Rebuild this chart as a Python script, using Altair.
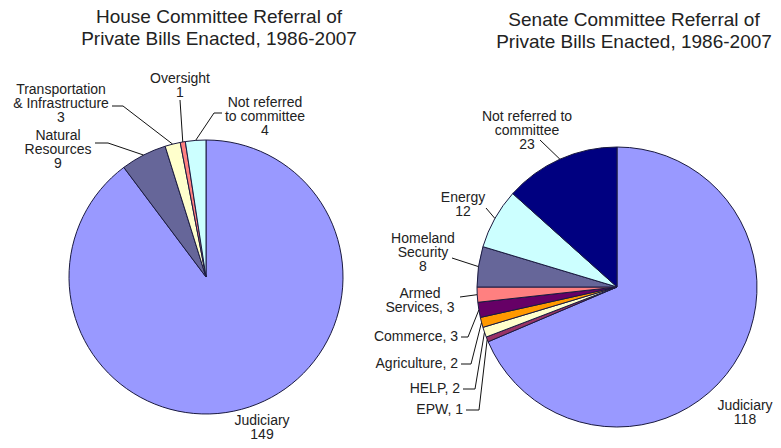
import math
import altair as alt
import pandas as pd

# ---------------- data ----------------
house_committees = ["Judiciary", "Natural Resources", "Transportation & Infrastructure",
                    "Oversight", "Not referred to committee"]
house_counts = [149, 9, 3, 1, 4]
house_labels = ["Judiciary\n149", "Natural\nResources\n9",
                "Transportation\n& Infrastructure\n3", "Oversight\n1",
                "Not referred\nto committee\n4"]

senate_committees = ["Judiciary", "EPW", "HELP", "Agriculture", "Commerce",
                     "Armed Services", "Homeland Security", "Energy",
                     "Not referred to committee"]
senate_counts = [118, 1, 2, 2, 3, 3, 8, 12, 23]
senate_labels = ["Judiciary\n118", "EPW, 1", "HELP, 2", "Agriculture, 2", "Commerce, 3",
                 "Armed\nServices, 3", "Homeland\nSecurity\n8", "Energy\n12",
                 "Not referred to\ncommittee\n23"]

titles = ["House Committee Referral of\nPrivate Bills Enacted, 1986-2007",
          "Senate Committee Referral of\nPrivate Bills Enacted, 1986-2007"]

# ---------------- styles / layout ----------------
house_colors = ["#9999FF", "#666699", "#FFFFCC", "#FF8080", "#CCFFFF"]
senate_colors = ["#9999FF", "#993366", "#FFFFCC", "#FF9900", "#660066",
                 "#FF8080", "#666699", "#CCFFFF", "#000080"]

W, H = 765, 432
OFF = 8  # page margin
FONT = "Liberation Sans"

house_center, house_r = (206, 277), 137
senate_center, senate_r = (617, 287), 140

# label anchor (x, first baseline y, align) and leader path start points (image coords)
house_layout = [
    (262, 425, "center", None),
    (58, 140, "center", [(95, 143), (108, 143)]),
    (61, 94, "center", [(112, 106), (123, 106)]),
    (180, 83, "center", [(180, 100)]),
    (265, 107, "center", [(222, 113), (214, 113)]),
]
senate_layout = [
    (745, 410, "center", None),
    (463, 414, "right", [(466, 410), (479, 410)]),
    (460, 393, "right", [(463, 389), (475, 389)]),
    (458, 368, "right", [(461, 364), (471, 364)]),
    (458, 341, "right", [(461, 337), (468, 337)]),
    (420, 298, "center", [(460, 297)]),
    (423, 243, "center", [(452, 258)]),
    (463, 202, "center", [(486, 208)]),
    (527, 121, "center", [(540, 140)]),
]
title_layout = [(219, 23), (634, 26)]


def pie_frames(committees, counts, labels, colors, layout, center, r, tag):
    total = sum(counts)
    slices = pd.DataFrame({"committee": committees, "count": counts,
                           "color": colors, "idx": range(len(counts))})
    text_rows, line_rows = [], []
    cum = 0
    for i, (c, lab, lay) in enumerate(zip(counts, labels, layout)):
        mid = (cum + c / 2) / total * 2 * math.pi
        cum += c
        x, y, align, path = lay
        text_rows.append({"x": x - OFF, "y": y - OFF, "label": lab, "align": align})
        if path:
            ex = center[0] + r * math.sin(mid)
            ey = center[1] - r * math.cos(mid)
            pts = list(path) + [(ex, ey)]
            for k, (px, py) in enumerate(pts):
                line_rows.append({"lid": f"{tag}{i}", "pt": k, "x": px - OFF, "y": py - OFF})
    return slices, pd.DataFrame(text_rows), pd.DataFrame(line_rows)


h_sl, h_tx, h_ln = pie_frames(house_committees, house_counts, house_labels, house_colors,
                              house_layout, house_center, house_r, "h")
s_sl, s_tx, s_ln = pie_frames(senate_committees, senate_counts, senate_labels, senate_colors,
                              senate_layout, senate_center, senate_r, "s")
texts = pd.concat([h_tx, s_tx], ignore_index=True)
lines = pd.concat([h_ln, s_ln], ignore_index=True)
title_df = pd.DataFrame({"x": [p[0] - OFF for p in title_layout],
                         "y": [p[1] - OFF for p in title_layout],
                         "label": titles})


def pie(df, center, r):
    return alt.Chart(df).mark_arc(outerRadius=r, stroke="#1a1a40", strokeWidth=1).encode(
        theta=alt.Theta("count:Q", stack=True),
        color=alt.Color("color:N", scale=None),
        order=alt.Order("idx:Q"),
        x=alt.value(center[0] - OFF),
        y=alt.value(center[1] - OFF),
        tooltip=["committee:N", "count:Q"],
    )


X = alt.X("x:Q", scale=None, axis=None)
Y = alt.Y("y:Q", scale=None, axis=None)

house_pie = pie(h_sl, house_center, house_r)
senate_pie = pie(s_sl, senate_center, senate_r)

leader = alt.Chart(lines).mark_line(color="#111111", strokeWidth=1).encode(
    x=X, y=Y, detail="lid:N", order="pt:Q")

text_c = alt.Chart(texts).transform_filter(alt.datum.align == "center").mark_text(
    align="center", baseline="alphabetic", lineBreak="\n", lineHeight=14,
    font=FONT, fontSize=14, color="#222222").encode(x=X, y=Y, text="label:N")
text_r = alt.Chart(texts).transform_filter(alt.datum.align == "right").mark_text(
    align="right", baseline="alphabetic", lineBreak="\n", lineHeight=14,
    font=FONT, fontSize=14, color="#222222").encode(x=X, y=Y, text="label:N")
title_t = alt.Chart(title_df).mark_text(
    align="center", baseline="alphabetic", lineBreak="\n", lineHeight=22,
    font=FONT, fontSize=19, color="#222222").encode(x=X, y=Y, text="label:N")

chart = alt.layer(house_pie, senate_pie, leader, text_c, text_r, title_t).resolve_scale(
    theta="independent"
).properties(
    width=W, height=H, autosize=alt.AutoSizeParams(type="none"), padding=0,
    background="white"
).configure_view(stroke=None)

chart.save("out.html", embed_options={"renderer": "svg", "actions": False})
